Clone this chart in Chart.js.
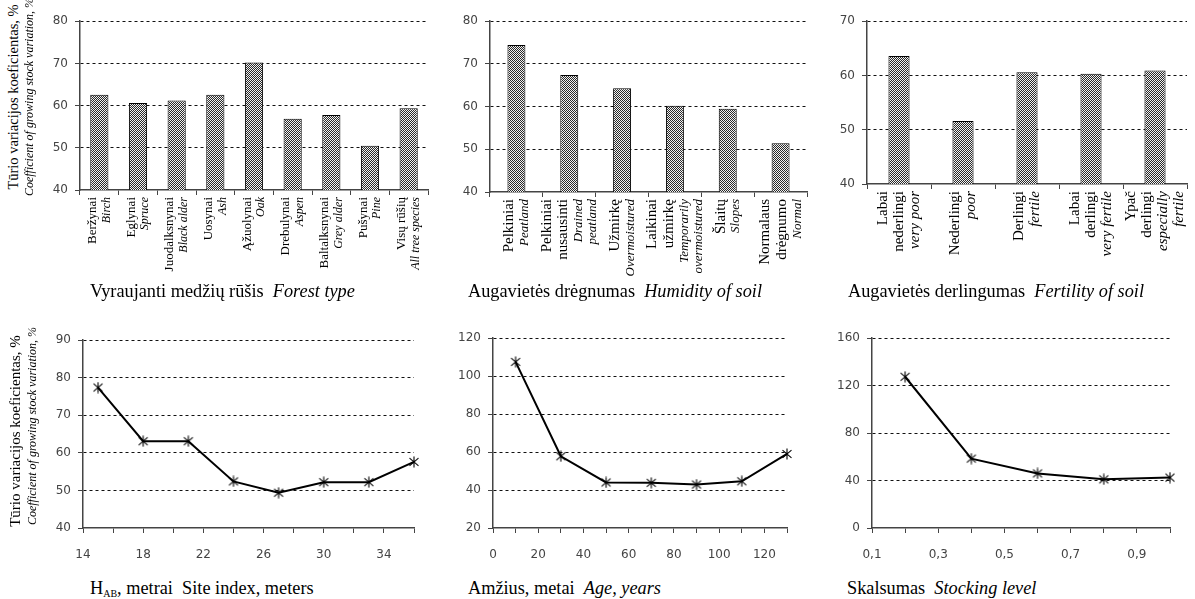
<!DOCTYPE html>
<html><head><meta charset="utf-8">
<script src="https://cdn.jsdelivr.net/npm/chart.js@4/dist/chart.umd.min.js"></script>
<style>
html,body{margin:0;padding:0;background:#fff;}
body{width:1195px;height:599px;position:relative;overflow:hidden;font-family:"Liberation Serif","Times New Roman",serif;}
canvas{position:absolute;}
.t{position:absolute;white-space:pre;color:#000;font-size:18.3px;line-height:20px;z-index:2;}
.t i{font-style:italic;}
.t sub{font-size:10px;vertical-align:-3px;line-height:0;}
.v{position:absolute;white-space:nowrap;transform:translate(-50%,-50%) rotate(-90deg);color:#000;z-index:2;line-height:1;}
</style></head><body>
<canvas id="c1"></canvas><canvas id="c2"></canvas><canvas id="c3"></canvas>
<canvas id="c4"></canvas><canvas id="c5"></canvas><canvas id="c6"></canvas>

<div class="v" style="left:13px;top:97px;font-size:14.5px;">Tūrio variacijos koeficientas, %</div>
<div class="v" style="left:29px;top:97px;font-size:12px;font-style:italic;">Coefficient of growing stock variation, %</div>
<div class="v" style="left:15px;top:431px;font-size:15px;">Tūrio variacijos koeficientas, %</div>
<div class="v" style="left:32px;top:426px;font-size:12px;font-style:italic;">Coefficient of growing stock variation, %</div>

<div class="t" style="left:90px;top:281px;">Vyraujanti medžių rūšis  <i>Forest type</i></div>
<div class="t" style="left:468px;top:281px;">Augavietės drėgnumas  <i>Humidity of soil</i></div>
<div class="t" style="left:848px;top:281px;">Augavietės derlingumas  <i>Fertility of soil</i></div>
<div class="t" style="left:90px;top:578px;">H<sub>AB</sub>, metrai  Site index, meters</div>
<div class="t" style="left:468px;top:578px;">Amžius, metai  <i>Age, years</i></div>
<div class="t" style="left:847px;top:578px;">Skalsumas  <i>Stocking level</i></div>

<script>
// ---- Data ----
const forestTypesLt = ["Beržynai","Eglynai","Juodalksnynai","Uosynai","Ąžuolynai","Drebulynai","Baltalksnynai","Pušynai","Visų rūšių"];
const forestTypesEn = ["Birch","Spruce","Black alder","Ash","Oak","Aspen","Grey alder","Pine","All tree species"];
const forestCV = [62.6,60.6,61.2,62.6,70.2,56.9,57.8,50.5,59.4];

const humidityLt = [["Pelkiniai"],["Pelkiniai","nusausinti"],["Užmirkę"],["Laikinai","užmirkę"],["Šlaitų"],["Normalaus","drėgnumo"]];
const humidityEn = [["Peatland"],["Drained","peatland"],["Overmoistured"],["Temporarily","overmoistured"],["Slopes"],["Normal"]];
const humidityCV = [74.4,67.4,64.3,60.2,59.5,51.4];

const fertilityLt = [["Labai","nederlingi"],["Nederlingi"],["Derlingi"],["Labai","derlingi"],["Ypač","derlingi"]];
const fertilityEn = [["very poor"],["poor"],["fertile"],["very fertile"],["especially","fertile"]];
const fertilityCV = [63.6,51.6,60.6,60.3,60.9];

const siteIndex = [15,18,21,24,27,30,33,36];
const siteIndexCV = [77.4,63.1,63.1,52.4,49.4,52.2,52.2,57.6];

const ageYears = [10,30,50,70,90,110,130];
const ageCV = [107.5,57.8,44.0,43.8,42.9,44.6,59.0];

const stocking = [0.2,0.4,0.6,0.8,1.0];
const stockingCV = [127.5,58.5,46.0,41.0,42.5];

// ---- helpers ----
const AXIS = '#444';
const TICKFONT = {family:'DejaVu Sans', size:12};

function makePattern(){
  const c=document.createElement('canvas'); c.width=2; c.height=2;
  const x=c.getContext('2d');
  x.fillStyle='#f2f2f2'; x.fillRect(0,0,2,2);
  x.fillStyle='#2a2a2a'; x.fillRect(0,0,1,1); x.fillRect(1,1,1,1);
  return x.createPattern(c,'repeat');
}
function makeStar(){
  const c=document.createElement('canvas'); c.width=12; c.height=12;
  const x=c.getContext('2d');
  x.strokeStyle='#000'; x.lineWidth=1.1;
  x.beginPath();
  x.moveTo(6,0.5); x.lineTo(6,11.5);
  x.moveTo(1.5,2.2); x.lineTo(10.5,9.8);
  x.moveTo(1.5,9.8); x.lineTo(10.5,2.2);
  x.stroke();
  return c;
}
const STAR = makeStar();

const catLabelPlugin = {
  id:'catLabels',
  afterDraw(chart, args, opts){
    if(!opts || !opts.lt) return;
    const xs = chart.scales.x, ctx = chart.ctx;
    const y0 = chart.chartArea.bottom + opts.gap;
    ctx.save();
    ctx.fillStyle='#000'; ctx.textAlign='right'; ctx.textBaseline='middle';
    opts.lt.forEach((lt,i)=>{
      const lines = [].concat(lt).map(t=>({t,it:false,s:opts.ltSize}))
        .concat([].concat(opts.en[i]).map(t=>({t,it:true,s:opts.enSize})));
      const hs = lines.map(l=>l.s*opts.lh);
      const total = hs.reduce((a,b)=>a+b,0);
      let off = -total/2;
      const x = xs.getPixelForValue(i) + (opts.dx||0);
      lines.forEach((l,k)=>{
        const c = off + hs[k]/2; off += hs[k];
        ctx.save();
        ctx.translate(x + c, y0);
        ctx.rotate(-Math.PI/2);
        ctx.font = (l.it?'italic ':'') + l.s + 'px "Liberation Serif"';
        ctx.fillText(l.t, 0, 0);
        ctx.restore();
      });
    });
    ctx.restore();
  }
};
Chart.register(catLabelPlugin);

function yAxis(min,max,step,yW){
  return {
    type:'linear', min, max,
    ticks:{stepSize:step, padding:7, color:AXIS, font:TICKFONT},
    grid:{color:c=>(c.tick && c.tick.value===min)?'rgba(0,0,0,0)':'#111', lineWidth:1,
          drawTicks:true, tickLength:5, tickColor:AXIS, tickWidth:1},
    border:{color:AXIS, width:1.5, dash:[3,3]},
    afterFit(s){ s.width = yW; }
  };
}

function place(id, L, R, T, B, yW, xH, padR, padB){
  const cv = document.getElementById(id);
  const left = L - yW, top = T - 10;
  const w = R - left + padR, h = 10 + (B - T) + xH + padB;
  cv.width = w; cv.height = h;
  cv.style.left = left+'px'; cv.style.top = top+'px';
  cv.style.width = w+'px'; cv.style.height = h+'px';
  return {cv, padding:{top:10,left:0,right:padR,bottom:padB}};
}

function barChart(id, geom, labelsLt, labelsEn, values, ymin, ymax, barPct, lab){
  const g = place(id, geom.L, geom.R, geom.T, geom.B, geom.yW, 6, geom.padR, 100);
  const pat = makePattern();
  new Chart(g.cv, {
    type:'bar',
    data:{labels: labelsLt.map(l=>[].concat(l).join(' ')),
      datasets:[{data:values, backgroundColor:pat, borderColor:'#000', borderWidth:1,
        barPercentage:barPct, categoryPercentage:1}]},
    options:{
      responsive:false, animation:false, devicePixelRatio:1,
      layout:{padding:g.padding},
      plugins:{legend:{display:false}, tooltip:{enabled:false},
        catLabels:Object.assign({lt:labelsLt, en:labelsEn, gap:7, lh:1.1}, lab)},
      scales:{
        x:{type:'category', offset:true,
           grid:{offset:true, drawOnChartArea:false, drawTicks:true, tickLength:5, tickColor:AXIS},
           border:{color:AXIS, width:1.5},
           ticks:{callback:()=>'', autoSkip:false, maxRotation:0},
           afterFit(s){ s.height = 6; }},
        y:yAxis(ymin, ymax, 10, geom.yW)
      }
    }
  });
}

function lineChart(id, geom, xs, ys, xmin, xmax, xstep, ymin, ymax, ystep, fmt){
  const g = place(id, geom.L, geom.R, geom.T, geom.B, geom.yW, 32, geom.padR, 0);
  new Chart(g.cv, {
    type:'line',
    data:{datasets:[{data: xs.map((x,i)=>({x, y:ys[i]})), borderColor:'#000', borderWidth:2,
      pointStyle:STAR, pointRadius:5, tension:0, fill:false, clip:false}]},
    options:{
      responsive:false, animation:false, devicePixelRatio:1,
      layout:{padding:g.padding},
      plugins:{legend:{display:false}, tooltip:{enabled:false}},
      scales:{
        x:{type:'linear', min:xmin, max:xmax,
           ticks:{stepSize:xstep, autoSkip:false, maxRotation:0, padding:15, color:AXIS, font:TICKFONT,
                  callback:(v,i)=> i%2===0 ? fmt(v) : ''},
           grid:{drawOnChartArea:false, drawTicks:true, tickLength:5, tickColor:AXIS},
           border:{color:AXIS, width:1.5},
           afterFit(s){ s.height = 32; }},
        y:yAxis(ymin, ymax, ystep, geom.yW)
      }
    }
  });
}

barChart('c1', {L:80,R:428,T:17,B:190,yW:50,padR:12}, forestTypesLt, forestTypesEn, forestCV, 40, 80, 0.47,
  {ltSize:13, enSize:12});
barChart('c2', {L:490,R:807,T:17,B:192,yW:45,padR:12}, humidityLt, humidityEn, humidityCV, 40, 80, 0.34,
  {ltSize:15, enSize:13});
barChart('c3', {L:867,R:1187,T:17,B:184,yW:45,padR:8}, fertilityLt, fertilityEn, fertilityCV, 40, 70, 0.33,
  {ltSize:15, enSize:15, lh:1.05});

lineChart('c4', {L:83,R:417,T:336,B:528,yW:50,padR:12}, siteIndex, siteIndexCV, 14, 36, 2, 40, 90, 10, v=>String(v));
lineChart('c5', {L:493,R:790,T:334,B:528,yW:50,padR:12}, ageYears, ageCV, 0, 130, 10, 20, 120, 20, v=>String(v));
lineChart('c6', {L:872,R:1173,T:334,B:528,yW:50,padR:12}, stocking, stockingCV, 0.1, 1.0, 0.1, 0, 160, 40,
  v=>Number(v).toFixed(1).replace('.', ','));
</script>
</body></html>
